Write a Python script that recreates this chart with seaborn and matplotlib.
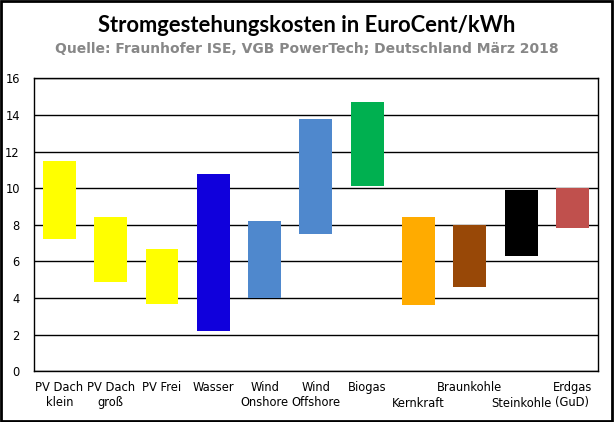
import matplotlib
matplotlib.use("Agg")
import matplotlib.pyplot as plt
import matplotlib.transforms as mtransforms
import pandas as pd
import seaborn as sns

# Data: cost ranges in EuroCent/kWh
categories = ['PV Dach\nklein', 'PV Dach\ngroß', 'PV Frei', 'Wasser', 'Wind\nOnshore',
              'Wind\nOffshore', 'Biogas', 'Kernkraft', 'Braunkohle', 'Steinkohle',
              'Erdgas\n(GuD)']
low = [7.2, 4.9, 3.7, 2.2, 4.0, 7.5, 10.1, 3.6, 4.6, 6.3, 7.8]
high = [11.5, 8.4, 6.7, 10.8, 8.2, 13.8, 14.7, 8.4, 8.0, 9.9, 10.0]
colors = ['#FFFF00', '#FFFF00', '#FFFF00', '#1000DC', '#4F88CD', '#4F88CD',
          '#00B050', '#FFAB00', '#984807', '#000000', '#C0504D']
# labels shown on the second text row
lower_row = ['Kernkraft', 'Steinkohle']

df = pd.DataFrame({'cat': categories, 'low': low, 'high': high})
df['span'] = df['high'] - df['low']

sns.set_style('white')
plt.rcParams['font.family'] = ['DejaVu Sans']

fig = plt.figure(figsize=(6.14, 4.22), dpi=100)
ax = fig.add_axes([0.055, 0.12, 0.919, 0.6945])

# floating bars: height = span, starting at the low value
sns.barplot(data=df, x='cat', y='span', bottom=df['low'].to_numpy(), color='gray',
            width=0.64, ax=ax, saturation=1, errorbar=None)
for patch, c in zip(ax.patches, colors):
    patch.set_facecolor(c)
    patch.set_edgecolor('none')

ax.set_ylim(0, 16)
ax.set_yticks(range(0, 17, 2))
ax.yaxis.grid(True, color='black', linewidth=1)
ax.set_axisbelow(True)
ax.set_xlabel('')
ax.set_ylabel('')
for s in ax.spines.values():
    s.set_color('black')
    s.set_linewidth(1)
ax.tick_params(axis='both', length=0, labelsize=8.3, colors='black')
ax.tick_params(axis='x', pad=7)
ax.tick_params(axis='y', pad=10)

# push the staggered labels one row down
shift = mtransforms.ScaledTranslation(0, -0.16, fig.dpi_scale_trans)
for lbl in ax.get_xticklabels():
    if lbl.get_text() in lower_row:
        lbl.set_transform(lbl.get_transform() + shift)

fig.text(0.5, 0.94, 'Stromgestehungskosten in EuroCent/kWh', ha='center', va='center',
         fontsize=15.8, fontweight='bold', family='Lato', color='black')
fig.text(0.5, 0.884, 'Quelle: Fraunhofer ISE, VGB PowerTech; Deutschland März 2018',
         ha='center', va='center', fontsize=10, fontweight='bold', color='#878787')

# outer frame
fig.patches.append(plt.Rectangle((0.002, 0.003), 0.995, 0.994, transform=fig.transFigure,
                                 fill=False, edgecolor='black', linewidth=2))

fig.savefig('out.png', dpi=100)
